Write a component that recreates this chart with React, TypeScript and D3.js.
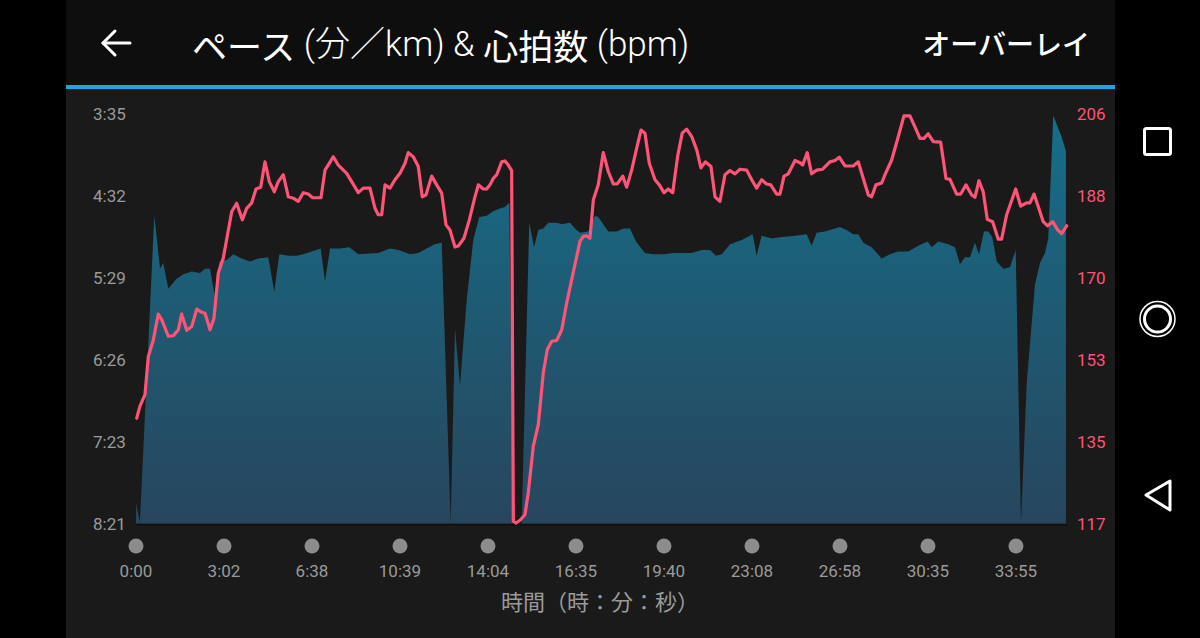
import React from 'react';
import * as d3 from 'd3';

// ---------- data ----------
const xTickLabels = ['0:00', '3:02', '6:38', '10:39', '14:04', '16:35', '19:40', '23:08', '26:58', '30:35', '33:55'];
const xMax = 10.58;

const paceMin = 215; // 3:35 (top)
const paceMax = 501; // 8:21 (bottom)
const hrMin = 117;
const hrMax = 206;

const paceDist = [0,0.045,0.208,0.273,0.31,0.367,0.462,0.538,0.633,0.727,
  0.784,0.841,0.898,0.947,1.031,1.106,1.201,1.295,1.39,1.503,
  1.572,1.628,1.731,1.826,1.901,1.997,2.099,2.148,2.205,2.318,
  2.424,2.526,2.753,2.886,2.981,3.114,3.208,3.303,3.398,3.474,
  3.576,3.625,3.682,3.758,3.833,3.901,3.985,4.06,4.136,4.193,
  4.242,4.284,4.383,4.469,4.523,4.572,4.628,4.685,4.781,4.838,
  4.932,4.989,5.045,5.14,5.216,5.253,5.31,5.367,5.462,5.538,
  5.614,5.682,5.784,5.878,5.992,6.106,6.219,6.315,6.428,6.523,
  6.591,6.656,6.75,6.883,7.008,7.053,7.11,7.224,7.318,7.489,
  7.622,7.678,7.735,7.83,8.0,8.076,8.151,8.208,8.265,8.36,
  8.474,8.568,8.663,8.776,8.89,8.997,9.042,9.117,9.231,9.307,
  9.364,9.42,9.477,9.534,9.58,9.636,9.685,9.731,9.781,9.856,
  9.932,9.997,10.057,10.122,10.216,10.273,10.33,10.367,10.424,10.519,10.568];

const paceSec = [487,500,286,323,319,337,330,327,325,326,
  323,323,343,318,317,313,316,318,316,315,
  339,313,314,314,313,311,309,332,309,309,
  308,313,312,309,310,313,312,309,306,305,
  501,365,405,345,303,287,286,283,281,280,
  277,501,501,291,308,296,295,291,291,292,
  291,295,298,297,286,287,292,297,297,295,
  295,304,312,313,313,312,312,312,310,310,
  314,313,306,303,299,314,300,302,301,300,
  299,307,298,297,294,296,299,299,305,308,
  316,313,311,311,307,304,308,304,306,308,
  320,315,315,305,313,297,297,301,318,323,
  322,310,501,403,334,319,312,302,216,231,241];

const hrDist = [0.008,0.045,0.102,0.14,0.197,0.253,0.292,0.367,0.424,0.481,
  0.519,0.576,0.633,0.69,0.747,0.784,0.841,0.886,0.935,0.992,
  1.088,1.144,1.208,1.258,1.315,1.364,1.417,1.466,1.515,1.572,
  1.617,1.674,1.731,1.788,1.844,1.901,1.958,2.008,2.102,2.148,
  2.242,2.299,2.394,2.451,2.526,2.583,2.659,2.716,2.753,2.792,
  2.83,2.886,2.943,3.0,3.057,3.094,3.151,3.208,3.253,3.295,
  3.36,3.417,3.474,3.523,3.568,3.625,3.663,3.727,3.788,3.852,
  3.89,3.947,3.985,4.023,4.06,4.099,4.156,4.193,4.231,4.269,
  4.288,4.318,4.364,4.42,4.458,4.515,4.572,4.628,4.674,4.724,
  4.781,4.838,4.894,4.951,5.008,5.045,5.083,5.122,5.159,5.197,
  5.253,5.31,5.367,5.424,5.469,5.531,5.576,5.633,5.69,5.739,
  5.784,5.833,5.898,5.947,6.0,6.049,6.099,6.156,6.208,6.258,
  6.315,6.372,6.42,6.47,6.534,6.58,6.636,6.693,6.75,6.807,
  6.864,6.94,6.997,7.053,7.11,7.167,7.213,7.281,7.318,7.364,
  7.413,7.489,7.545,7.576,7.628,7.678,7.735,7.803,7.886,7.943,
  7.992,8.057,8.151,8.208,8.265,8.322,8.36,8.409,8.474,8.511,
  8.588,8.663,8.727,8.795,8.852,8.909,8.955,9.003,9.06,9.144,
  9.205,9.25,9.326,9.372,9.432,9.497,9.534,9.58,9.628,9.674,
  9.735,9.799,9.837,9.894,9.997,10.053,10.122,10.159,10.205,10.253,
  10.31,10.36,10.417,10.474,10.519,10.576];

const hrBpm = [139.9,142.5,145.0,153.3,156.9,162.5,161.3,157.7,157.8,159.1,
  162.5,159.0,159.8,163.6,162.9,162.7,159.1,161.6,171.4,174.7,
  184.8,186.6,183.0,185.5,186.7,189.7,190.1,195.6,191.3,189.1,
  191.3,192.8,188.0,187.7,187.0,188.9,188.6,187.8,187.8,193.8,
  196.7,194.9,193.1,191.3,188.9,189.9,189.9,185.5,184.1,184.1,
  190.6,189.9,191.7,193.1,195.3,197.6,196.7,194.6,188.0,188.4,
  192.5,190.6,188.8,181.9,180.8,177.1,177.3,179.0,183.0,188.0,
  190.6,189.7,189.7,190.6,192.0,192.8,195.6,195.8,194.9,193.7,
  117.5,117.1,117.7,118.9,123.7,133.8,138.5,149.7,154.8,156.6,
  156.8,159.1,164.9,170.0,175.0,178.3,179.4,179.5,179.0,187.3,
  190.6,197.6,193.5,190.8,190.8,192.5,190.1,193.8,198.6,202.5,
  201.8,195.3,191.7,190.6,188.9,189.7,188.9,196.9,201.9,202.7,
  201.1,198.2,194.3,195.6,194.6,188.0,187.0,192.8,193.7,193.0,
  194.0,193.8,191.7,189.9,191.7,190.8,190.6,188.6,188.6,192.5,
  193.0,195.9,195.4,194.9,197.6,193.0,193.8,194.0,195.6,195.9,
  196.6,194.7,194.7,195.6,192.0,188.4,188.0,190.6,191.0,192.8,
  196.0,201.1,205.6,205.6,203.2,200.7,200.7,201.7,200.0,199.9,
  192.0,191.8,188.6,188.6,190.6,188.4,187.9,191.5,189.1,183.1,
  182.6,178.8,178.8,184.1,189.7,186.0,186.7,186.7,188.6,185.9,
  182.6,181.7,182.6,180.8,180.0,181.7];

const titleParts = ['ペース', ' (分／km) & ', '心拍数', ' (bpm)'];
const overlayLabel = 'オーバーレイ';
const xAxisTitle = '時間（時：分：秒）';

// ---------- component ----------
const W = 1200;
const H = 638;
const PLOT = { left: 136, right: 1067, top: 114, bottom: 523.5 };
const LATIN = 'Roboto, "Noto Sans CJK JP", sans-serif';
const CJK = '"Noto Sans CJK JP", Roboto, sans-serif';

const fmtPace = (s: number) => {
  const t = Math.floor(s + 1e-6);
  return `${Math.floor(t / 60)}:${String(t % 60).padStart(2, '0')}`;
};

export default function App() {
  const x = d3.scaleLinear().domain([0, xMax]).range([PLOT.left, PLOT.right]);
  const yPace = d3.scaleLinear().domain([paceMin, paceMax]).range([PLOT.top, PLOT.bottom]);
  const yHr = d3.scaleLinear().domain([hrMin, hrMax]).range([PLOT.bottom, PLOT.top]);

  const areaGen = d3
    .area<number>()
    .x((_, i) => x(paceDist[i]))
    .y0(yPace(paceMax))
    .y1((d) => yPace(d));
  const lineGen = d3
    .line<number>()
    .x((_, i) => x(hrDist[i]))
    .y((d) => yHr(d));

  const paceTicks = d3.range(6).map((i) => paceMin + (i * (paceMax - paceMin)) / 5);
  const hrTicks = d3.range(6).map((i) => hrMin + (i * (hrMax - hrMin)) / 5);
  const xTicks = xTickLabels.map((_, i) => i);

  const grey = '#9a9a9a';
  const pink = '#ff5377';

  return (
    <div style={{ position: 'fixed', left: 0, top: 0, width: W, height: H }}>
      <svg width={W} height={H} style={{ display: 'block' }}>
        <defs>
          <linearGradient id="paceFill" gradientUnits="userSpaceOnUse" x1="0" y1={PLOT.top} x2="0" y2={PLOT.bottom}>
            <stop offset="0" stopColor="#166f89" />
            <stop offset="0.45" stopColor="#1e5b74" />
            <stop offset="1" stopColor="#27465e" />
          </linearGradient>
        </defs>
        <rect x={0} y={0} width={W} height={H} fill="#000" />
        {/* header */}
        <rect x={66} y={0} width={1049} height={85} fill="#0e0e0e" />
        <rect x={66} y={85} width={1049} height={4} fill="#1ba6e6" />
        <rect x={66} y={89} width={1049} height={H - 89} fill="#1a1a1a" />

        {/* back arrow */}
        <g stroke="#fff" strokeWidth={3} fill="none" strokeLinecap="round" strokeLinejoin="round">
          <path d="M103,43 H130" />
          <path d="M115,31 L103,43 L115,55" />
        </g>

        <text x={192} y={44} dominantBaseline="central" fill="#fff" fontSize={35}>
          <tspan fontFamily={CJK} fontWeight={400}>{titleParts[0]}</tspan>
          <tspan fontFamily={LATIN} fontWeight={300}>{titleParts[1]}</tspan>
          <tspan fontFamily={CJK} fontWeight={400}>{titleParts[2]}</tspan>
          <tspan fontFamily={LATIN} fontWeight={300}>{titleParts[3]}</tspan>
        </text>
        <text x={1090} y={43} textAnchor="end" dominantBaseline="central" fill="#fff" fontSize={28} fontFamily={CJK} fontWeight={500}>
          {overlayLabel}
        </text>

        {/* pace area */}
        <path d={areaGen(paceSec) || ''} fill="url(#paceFill)" />
        <line x1={PLOT.left} x2={PLOT.right} y1={525} y2={525} stroke="#121212" strokeWidth={2} />

        {/* heart rate line */}
        <path d={lineGen(hrBpm) || ''} fill="none" stroke={pink} strokeWidth={3.2} strokeLinejoin="round" strokeLinecap="round" />

        {/* left axis (pace) */}
        {paceTicks.map((t) => (
          <text key={'p' + t} x={93} y={yPace(t)} dominantBaseline="central" fill={grey} fontSize={17} fontFamily={LATIN}>
            {fmtPace(t)}
          </text>
        ))}
        {/* right axis (HR) */}
        {hrTicks.map((t) => (
          <text key={'h' + t} x={1077} y={yHr(t)} dominantBaseline="central" fill={pink} fontSize={17} fontFamily={LATIN}>
            {Math.round(t)}
          </text>
        ))}

        {/* x axis */}
        {xTicks.map((t, i) => (
          <g key={'x' + t}>
            <circle cx={x(t)} cy={546} r={7.5} fill="#8c8c8c" />
            <text x={x(t)} y={571} textAnchor="middle" dominantBaseline="central" fill={grey} fontSize={17} fontFamily={LATIN}>
              {xTickLabels[i]}
            </text>
          </g>
        ))}
        <text x={600} y={600} textAnchor="middle" dominantBaseline="central" fill={grey} fontSize={22} fontFamily={CJK}>
          {xAxisTitle}
        </text>

        {/* android nav bar */}
        <g stroke="#fff" fill="none" strokeLinejoin="round">
          <rect x={1144.5} y={128.5} width={26} height={26} rx={2} strokeWidth={3} />
          <circle cx={1157.5} cy={319} r={17.5} strokeWidth={1.5} />
          <circle cx={1157.5} cy={319} r={13} strokeWidth={3} />
          <path d="M1146,495 L1170,481 L1170,510 Z" strokeWidth={3} />
        </g>
      </svg>
    </div>
  );
}
